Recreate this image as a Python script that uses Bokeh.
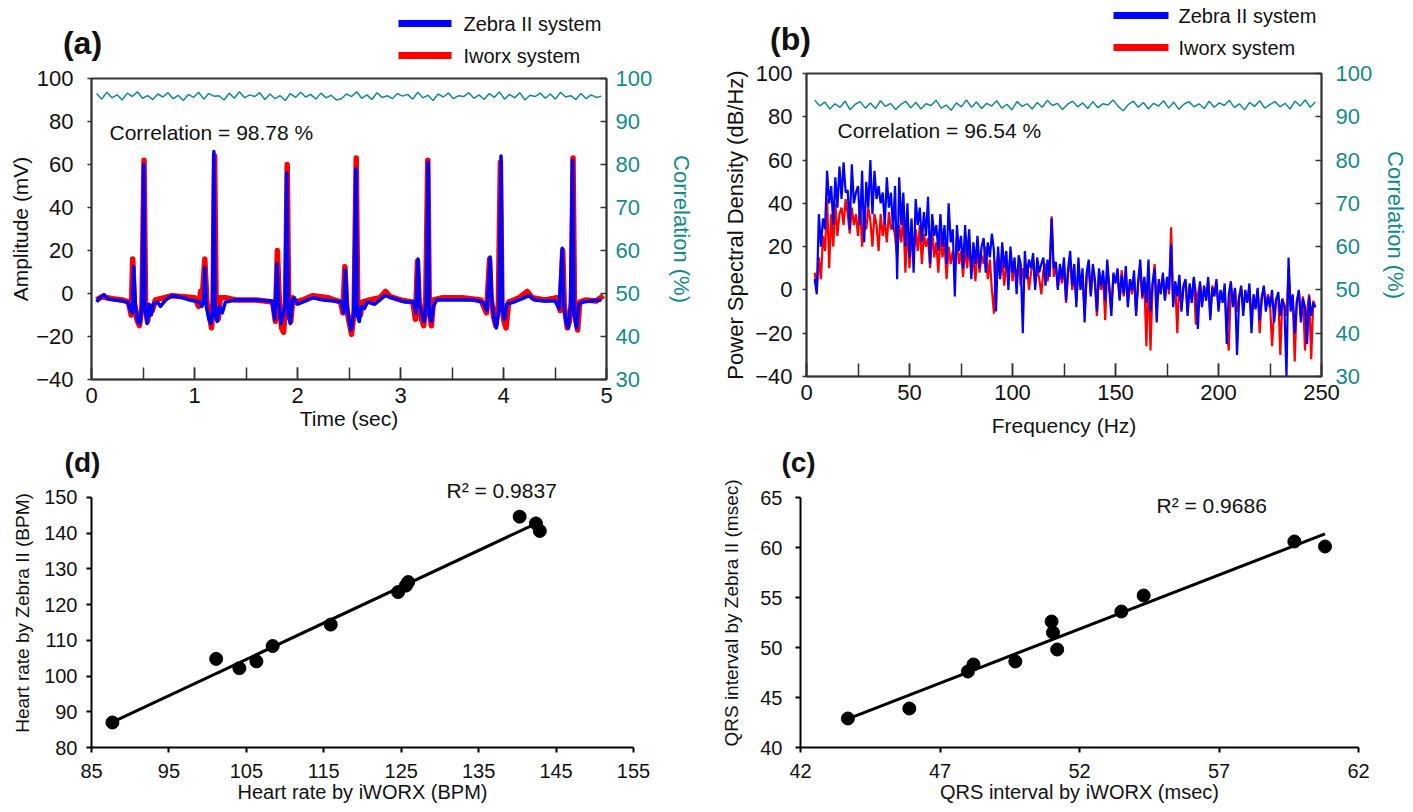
import numpy as np
from bokeh.plotting import figure
from bokeh.models import Range1d, LinearAxis, Label, SingleIntervalTicker, FixedTicker
from bokeh.layouts import column, row
from bokeh.embed import file_html
from bokeh.resources import INLINE

FONT = "Liberation Sans"
TEAL = "#138a8a"
BLUE = "#0000ff"
RED = "#ff0000"

# ---------------- (a) ECG traces ----------------
zebra_t = [0.05, 0.08, 0.12, 0.16, 0.22, 0.30, 0.35, 0.38, 0.395, 0.41, 0.425, 0.45, 0.47, 0.49, 0.507, 0.52, 0.54, 0.56,
           0.58, 0.60, 0.64, 0.67, 0.72, 0.78, 0.85, 0.95, 1.05, 1.07, 1.09, 1.10, 1.115, 1.14, 1.16, 1.175, 1.188, 1.20,
           1.22, 1.24, 1.27, 1.30, 1.40, 1.60, 1.75, 1.78, 1.80, 1.815, 1.84, 1.86, 1.88, 1.895, 1.91, 1.93, 1.95, 1.97,
           2.00, 2.05, 2.15, 2.25, 2.35, 2.43, 2.45, 2.465, 2.48, 2.50, 2.52, 2.545, 2.567, 2.58, 2.60, 2.62, 2.65, 2.68,
           2.75, 2.85, 2.95, 3.05, 3.13, 3.15, 3.17, 3.185, 3.21, 3.23, 3.25, 3.269, 3.28, 3.30, 3.32, 3.35, 3.50, 3.70,
           3.80, 3.84, 3.87, 3.885, 3.91, 3.93, 3.955, 3.976, 3.99, 4.01, 4.03, 4.10, 4.20, 4.25, 4.30, 4.40, 4.50, 4.54,
           4.57, 4.585, 4.61, 4.63, 4.65, 4.67, 4.685, 4.71, 4.73, 4.77, 4.85, 4.95]
zebra_mv = [-4, -2, -0.5, -2.5, -3, -3.5, -4, -8, -9, 12.5, -5, -13, -14, -5, 60, -8, -14, -5,
            -10, -5, -4, -6, -3, -1, -1.5, -3, -4, -6, -4, 12, -6, -12, -14, -8, 66, -10,
            -13, -6, -9, -4, -3, -3, -3.5, -12, 14, -3, -14, -10, -5, 56, -10, -14, -3, -2,
            -5, -4, -2, -3, -3.5, -4, -9, 11, -5, -12, -17, -10, 58, -10, -13, -6, -7, -4,
            -5, -1, -2.5, -4, -4, -9, 16, -5, -10, -13, -4, 61, -10, -13, -6, -3, -3, -3,
            -4, -8, 17, -3, -12, -16, -8, 64, -8, -12, -5, -4, -2, -1, -3, -3.5, -3.5, -7,
            21, -5, -14, -16, -6, 62, -10, -16, -5, -4, -3.5, -3]

iworx_t = [0.05, 0.10, 0.15, 0.22, 0.30, 0.36, 0.385, 0.40, 0.415, 0.44, 0.465, 0.49, 0.51, 0.525, 0.545, 0.565, 0.59,
           0.62, 0.70, 0.78, 0.90, 1.00, 1.04, 1.06, 1.075, 1.10, 1.12, 1.145, 1.165, 1.18, 1.195, 1.21, 1.23, 1.25,
           1.30, 1.40, 1.60, 1.76, 1.785, 1.805, 1.82, 1.845, 1.865, 1.885, 1.90, 1.915, 1.935, 1.955, 1.98, 2.05,
           2.15, 2.30, 2.42, 2.44, 2.46, 2.48, 2.505, 2.525, 2.55, 2.57, 2.585, 2.61, 2.63, 2.70, 2.80, 2.855, 2.90,
           3.00, 3.12, 3.145, 3.165, 3.18, 3.205, 3.225, 3.245, 3.265, 3.28, 3.30, 3.32, 3.40, 3.60, 3.78, 3.835,
           3.865, 3.88, 3.905, 3.925, 3.95, 3.97, 3.985, 4.005, 4.025, 4.05, 4.15, 4.23, 4.28, 4.40, 4.52, 4.55,
           4.575, 4.59, 4.62, 4.64, 4.66, 4.675, 4.69, 4.72, 4.74, 4.80, 4.90, 4.97]
iworx_mv = [-3, -1.5, -2, -2.5, -3, -4, -10, 16, -4, -12, -15, -6, 62, -6, -13, -6, -8,
            -3, -2, -1, -1.5, -2, -6, 1, -2, 16, -4, -10, -16, -6, 64, -6, -12, -2,
            -2, -3, -3, -4, -13, 20, 0, -16, -18, -4, 60, -8, -13, -2, -4, -3,
            -1, -2, -4, -9, 12.5, -8, -14, -19, -8, 63, -6, -10, -4, -3, -2, 1, -1.5,
            -3, -4, -12, 15, -3, -12, -15, -4, 62, -8, -15, -3, -2, -2, -3, -9,
            16, -2, -11, -15, -5, 61, -6, -13, -16, -4, -2, 1, -2, -3, -2, -8,
            20, -6, -16, -13, -4, 63, -8, -17, -4, -3, -3.5, -1]

corr_a = [96.5, 95.2, 96.8, 95.5, 96.2, 95.0, 96.6, 95.8, 96.9, 95.4, 96.0, 95.1, 96.4, 95.7, 96.7, 95.3, 96.1, 94.9,
          96.3, 95.6, 96.8, 95.2, 96.5, 95.9, 96.0, 95.0, 96.6, 95.4, 96.9, 95.5, 96.2, 95.8, 96.7, 95.1, 96.4, 95.3,
          96.0, 94.9, 96.5, 95.6, 96.8, 95.7, 96.3, 95.2, 96.6, 95.5, 96.1, 95.0, 95.3, 96.4, 95.8, 96.9, 95.4, 96.2,
          95.1, 96.7, 95.6, 96.0, 95.3, 96.5, 95.9, 96.3, 95.2, 96.8, 95.5, 96.1, 94.9, 96.4, 95.7, 96.6, 95.3, 96.0,
          95.8, 96.7, 95.4, 96.2, 95.1, 96.5, 95.6, 96.9, 95.2, 96.3, 95.5, 96.7, 95.0, 96.1, 95.8, 96.6, 95.4, 96.4,
          95.2, 96.8, 95.7, 96.0, 95.1, 96.5, 95.3, 96.2, 95.6, 95.9]

# ---------------- (b) power spectral density ----------------
psd_freq = list(range(4, 248))
psd_zebra = [5, -2, 35, 20, 33, 28, 55, 40, 48, 30,
             52, 38, 57, 42, 59, 45, 46, 28, 58, 40,
             45, 48, 30, 55, 22, 50, 38, 60, 35, 55,
             42, 48, 40, 45, 30, 52, 38, 45, 28, 48,
             5, 52, 30, 45, 20, 40, 15, 33, 8, 42,
             30, 38, 22, 36, 25, 43, 12, 35, 25, 30,
             18, 35, 20, 30, 12, 40, 22, 28, -3, 30,
             18, 25, 10, 30, 15, 28, 5, 22, 12, 25,
             10, 20, 24, 8, 22, 15, 26, 18, -10, 20,
             5, 22, 10, 18, 0, 20, 8, 15, -2, 16,
             12, -20, 18, 5, 14, 10, 17, 0, 15, 8,
             12, 15, 2, 14, 6, 33, 10, 13, 0, 12,
             5, 15, -5, 10, 18, 2, 12, -8, 15, 0,
             10, -15, 8, 14, -3, 12, 5, -10, 10, 2,
             9, -5, 14, 0, -12, 8, 3, 10, -5, 7,
             -2, 11, -8, 5, 0, 9, -12, 4, 14, -3,
             6, -6, 14, -10, 3, 10, -15, 5, -2, 8,
             -5, 6, 0, 21, -8, 4, -3, 7, -10, 2,
             5, -12, 3, -6, 6, -2, -18, 4, -8, 2,
             -5, 6, -14, 1, -3, 5, -10, 0, -6, 3,
             -25, -2, 4, -8, 1, -30, -4, 2, -12, 0,
             -6, 3, -20, -2, -9, 1, -14, -4, 2, -10,
             -3, -8, 0, -15, -5, -1, -12, -4, -8, -40,
             15, -10, -2, -20, -6, 0, -15, -4, -8, -25,
             -3, -12, -6, -8]
psd_iworx = [8, 0, 15, 5, 25, 18, 42, 10, 35, 20,
             40, 25, 35, 38, 30, 42, 35, 26, 38, 30,
             35, 25, 40, 20, 35, 28, 38, 32, 20, 35,
             30, 18, 35, 25, 32, 22, 36, 28, 30, 25,
             15, 30, 22, 35, 8, 30, 10, 25, 15, 28,
             18, 30, 12, 26, 20, 24, 10, 28, 15, 22,
             8, 25, 15, 22, 5, 20, 12, 18, 10, 24,
             12, 18, 6, 20, 10, 22, 8, 15, 4, 20,
             8, 16, 12, 20, 5, 14, 0, -11, 12, 16,
             6, 14, 2, 12, 8, 16, 4, 10, 8, 12,
             2, 10, 6, 12, 0, 8, 14, 3, 10, 5,
             -2, 9, 12, 4, 10, 34, 6, 12, 1, 9,
             3, 11, -6, 8, 13, 0, 6, -5, 10, 2,
             7, -10, 6, 10, -2, 9, 3, -12, 8, 0,
             6, -14, 10, 2, -8, 7, 4, 6, -4, 9,
             -3, 8, -6, 4, -2, 6, -10, 3, 10, -4,
             4, -26, 8, -28, 2, 12, -5, 3, 0, 6,
             -4, 5, -2, 29, -6, 3, -20, 5, -8, 1,
             4, -10, 2, -4, 5, -16, -2, 3, -6, 0,
             -4, 4, -12, 2, -2, 3, -8, -1, -4, 1,
             -18, -28, 2, -6, 0, -10, -3, 1, -8, -2,
             -5, 1, -12, -4, -7, 0, -20, -3, 1, -8,
             -2, -6, -26, -10, -4, -2, -30, -5, -7, -12,
             10, -8, -3, -33, -5, -1, -12, -3, -28, -10,
             -2, -32, -5, -8]
corr_b = [93.8, 92.5, 93.4, 91.8, 93.0, 92.2, 93.6, 91.6, 92.9, 93.5, 92.0, 93.2, 91.9, 93.7, 92.4, 93.1, 91.7, 92.8,
          93.6, 92.1, 93.3, 91.8, 93.0, 92.6, 93.8, 92.0, 92.7, 91.5, 93.2, 92.3, 93.9, 92.2, 93.4, 91.9, 93.1, 92.5,
          93.7, 92.0, 92.9, 91.6, 93.5, 92.4, 93.0, 91.8, 93.3, 92.2, 93.8, 92.6, 93.1, 91.7, 92.9, 93.6, 92.3, 93.2,
          91.9, 93.5, 92.1, 93.0, 92.7, 93.9, 92.4, 91.4, 92.8, 93.6, 92.2, 93.3, 91.8, 93.1, 92.5, 93.7, 92.0, 93.4,
          91.7, 92.9, 93.5, 92.3, 93.0, 91.9, 93.6, 92.2, 93.2, 92.6, 93.8, 92.1, 93.0, 91.6, 93.3, 92.4, 93.7, 92.0,
          92.8, 93.5, 92.3, 93.1, 91.8, 93.6, 92.5, 93.9, 92.2, 93.4]

# ---------------- (d) heart rate ----------------
hr_iworx = [87.7, 101.1, 104.1, 106.3, 108.4, 115.9, 124.6, 125.6, 125.9, 140.3, 142.4, 142.9]
hr_zebra = [87.0, 104.8, 102.2, 104.1, 108.4, 114.4, 123.5, 125.3, 126.3, 144.6, 142.7, 140.6]
hr_r2 = "R\u00b2 = 0.9837"

# ---------------- (c) QRS interval ----------------
qrs_iworx = [43.7, 45.9, 48.0, 48.2, 49.7, 51.0, 51.05, 51.2, 53.5, 54.3, 59.7, 60.8]
qrs_zebra = [42.9, 43.9, 47.6, 48.3, 48.6, 52.6, 51.5, 49.8, 53.6, 55.2, 60.6, 60.1]
qrs_r2 = "R\u00b2 = 0.9686"

legend_labels = ["Zebra II system", "Iworx system"]
legend_colors = [BLUE, RED]

FRAMES = {}


def make_fig(ox, oy, w, h, L, R, T, B, xr, yr, frame_top=None):
    """Plot box L..R / T..B in page pixels; the frame may reach higher (frame_top) for inner labels."""
    ft = T if frame_top is None else frame_top
    y1 = yr[1] + (T - ft) / (B - T) * (yr[1] - yr[0])
    p = figure(width=w, height=h, x_range=Range1d(*xr), y_range=Range1d(yr[0], y1),
               output_backend="svg", toolbar_location=None,
               min_border_left=L - ox, min_border_right=ox + w - R,
               min_border_top=ft - oy, min_border_bottom=oy + h - B)
    p.xgrid.visible = False
    p.ygrid.visible = False
    p.background_fill_color = "white"
    p.border_fill_color = "white"
    FRAMES[p.id] = (L, R, ft, B, xr[0], xr[1], yr[0], y1)
    return p


def make_header(ox, oy, w, h):
    p = figure(width=w, height=h, x_range=Range1d(ox, ox + w), y_range=Range1d(-(oy + h), -oy),
               output_backend="svg", toolbar_location=None, x_axis_location=None, y_axis_location=None,
               min_border=0, min_border_left=0, min_border_right=0, min_border_top=0, min_border_bottom=0)
    p.xgrid.visible = False
    p.ygrid.visible = False
    p.outline_line_color = None
    p.background_fill_color = "white"
    p.border_fill_color = "white"
    FRAMES[p.id] = (ox, ox + w, oy, oy + h, ox, ox + w, -(oy + h), -oy)
    return p


def to_data(p, px, py):
    L, R, T, B, x0, x1, y0, y1 = FRAMES[p.id]
    return x0 + (px - L) / (R - L) * (x1 - x0), y1 - (py - T) / (B - T) * (y1 - y0)


def style_axis(ax, tick_size, label_size, color="#222222", lw=1.5, tin=0, tout=0, mstand=8, lstand=4,
               label_color="#111111"):
    ax.axis_line_color = color
    ax.axis_line_width = lw
    ax.major_tick_line_color = color
    ax.major_tick_line_width = lw
    ax.minor_tick_line_color = color
    ax.minor_tick_line_width = lw
    ax.major_tick_in = tin
    ax.major_tick_out = tout
    ax.minor_tick_in = tin
    ax.minor_tick_out = tout
    ax.major_label_text_font = FONT
    ax.major_label_text_font_size = tick_size
    ax.major_label_text_color = label_color
    ax.axis_label_text_font = FONT
    ax.axis_label_text_font_size = label_size
    ax.axis_label_text_font_style = "normal"
    ax.axis_label_text_color = label_color
    ax.major_label_standoff = mstand
    ax.axis_label_standoff = lstand


def add_text(p, px, py, text, size, align="left", bold=False, color="#111111"):
    x, y = to_data(p, px, py)
    p.add_layout(Label(x=x, y=y, text=text, text_font=FONT, text_font_size=size,
                       text_font_style="bold" if bold else "normal", text_color=color,
                       text_align=align, text_baseline="middle"))


def add_legend(p, x0, x1, xt, ys):
    for yy, col, lab in zip(ys, legend_colors, legend_labels):
        xa, ya = to_data(p, x0, yy)
        xb, _ = to_data(p, x1, yy)
        p.segment(x0=[xa], y0=[ya], x1=[xb], y1=[ya], line_color=col, line_width=7)
        add_text(p, xt, yy, lab, "20px")


def ecg_panel(p, corr_x, corr_y, right_stand, right_lstand):
    p.extra_y_ranges = {"corr": Range1d(30, 100)}
    p.outline_line_color = "#333333"
    p.outline_line_width = 2
    p.line(corr_x, corr_y, y_range_name="corr", line_color=TEAL, line_width=1.5)
    rax = LinearAxis(y_range_name="corr", ticker=FixedTicker(ticks=[30, 40, 50, 60, 70, 80, 90, 100], minor_ticks=[]),
                     axis_label="Correlation (%)")
    style_axis(rax, "22px", "22px", color="#333333", tin=6, tout=0, mstand=right_stand, lstand=right_lstand,
               label_color=TEAL)
    p.add_layout(rax, "right")
    return p


# ================= headers (panel tags and legends) =================
TOP_A, TOP_B, TOP_ROW, MID = 67, 60, 446, 478
ha = make_header(0, 0, 700, TOP_A)
add_text(ha, 82, 42, "(a)", "32px", align="center", bold=True)
add_legend(ha, 398, 451, 463, [23, 55])

hb = make_header(700, 0, 713, TOP_B)
add_text(hb, 790, 38, "(b)", "32px", align="center", bold=True)
add_legend(hb, 1113, 1168, 1178, [15, 47])

hd = make_header(0, TOP_ROW, 700, MID - TOP_ROW)
add_text(hd, 82, 462, "(d)", "28px", align="center", bold=True)
hc = make_header(700, TOP_ROW, 713, MID - TOP_ROW)
add_text(hc, 798, 462, "(c)", "28px", align="center", bold=True)

# ================= panel (a) =================
pa = make_fig(0, TOP_A, 700, TOP_ROW - TOP_A, 91, 606, 78, 379, (0, 5), (-40, 100))
pa.line(iworx_t, iworx_mv, line_color=RED, line_width=5.5, line_join="round")
pa.line(zebra_t, zebra_mv, line_color=BLUE, line_width=3.5, line_join="round")
ecg_panel(pa, list(np.linspace(0.05, 4.95, len(corr_a))), corr_a, 9, 14)
pa.xaxis[0].ticker = SingleIntervalTicker(interval=1, num_minor_ticks=2)
pa.xaxis[0].axis_label = "Time (sec)"
style_axis(pa.xaxis[0], "22px", "21px", color="#333333", tin=12, tout=0, mstand=8, lstand=1)
pa.yaxis[0].ticker = FixedTicker(ticks=[-40, -20, 0, 20, 40, 60, 80, 100], minor_ticks=[])
pa.yaxis[0].axis_label = "Amplitude (mV)"
style_axis(pa.yaxis[0], "22px", "21px", color="#333333", tin=0, tout=4, mstand=14, lstand=1)
add_text(pa, 109, 132, "Correlation = 98.78 %", "21px")

# ================= panel (b) =================
pb = make_fig(700, TOP_B, 713, TOP_ROW - TOP_B, 806, 1321, 73, 376, (0, 250), (-40, 100))
pb.line(psd_freq, psd_iworx, line_color=RED, line_width=2.2)
pb.line(psd_freq, psd_zebra, line_color=BLUE, line_width=2.2)
ecg_panel(pb, list(np.linspace(4, 247, len(corr_b))), corr_b, 14, 8)
pb.xaxis[0].ticker = SingleIntervalTicker(interval=50, num_minor_ticks=2)
pb.xaxis[0].axis_label = "Frequency (Hz)"
style_axis(pb.xaxis[0], "22px", "21px", color="#333333", tin=13, tout=0, mstand=8, lstand=11)
pb.yaxis[0].ticker = FixedTicker(ticks=[-40, -20, 0, 20, 40, 60, 80, 100], minor_ticks=[])
pb.yaxis[0].axis_label = "Power Spectral Density (dB/Hz)"
style_axis(pb.yaxis[0], "22px", "22px", color="#333333", tin=0, tout=4, mstand=10, lstand=4)
add_text(pb, 837, 130, "Correlation = 96.54 %", "21px")


def scatter_panel(p, xs, ys, yb, r2, r2_px, r2_py, xlab, ylab, xticks, yticks, ystands):
    p.outline_line_color = None
    xs_a = np.array(xs)
    ys_a = np.array(ys)
    k, b = np.polyfit(xs_a, ys_a, 1)
    lx = np.array([xs_a.min(), xs_a.max()])
    p.line(lx, k * lx + b, line_color="black", line_width=3)
    p.scatter(xs, ys, size=13, color="black")
    p.xaxis[0].ticker = FixedTicker(ticks=xticks, minor_ticks=[])
    p.yaxis[0].ticker = FixedTicker(ticks=yticks, minor_ticks=[])
    p.yaxis[0].bounds = yb
    p.xaxis[0].axis_label = xlab
    p.yaxis[0].axis_label = ylab
    style_axis(p.xaxis[0], "20px", "20px", color="black", lw=2, tin=0, tout=5, mstand=11, lstand=0)
    style_axis(p.yaxis[0], "20px", "19px", color="black", lw=2, tin=0, tout=5, mstand=ystands[0], lstand=ystands[1])
    add_text(p, r2_px, r2_py, r2, "21px")


# ================= panel (d) =================
pd_ = make_fig(0, MID, 700, 812 - MID, 91, 633, 497, 749, (85, 155), (80, 150), frame_top=MID)
scatter_panel(pd_, hr_iworx, hr_zebra, (80, 150), hr_r2, 446, 490,
              "Heart rate by iWORX (BPM)", "Heart rate by Zebra II (BPM)",
              [85, 95, 105, 115, 125, 135, 145, 155], [80, 90, 100, 110, 120, 130, 140, 150], (9, 8))

# ================= panel (c) =================
pc = make_fig(700, MID, 713, 812 - MID, 800, 1358, 497, 747, (42, 62), (40, 65), frame_top=MID)
scatter_panel(pc, qrs_iworx, qrs_zebra, (40, 65), qrs_r2, 1156, 505,
              "QRS interval by iWORX (msec)", "QRS interval by Zebra II (msec)",
              [42, 47, 52, 57, 62], [40, 45, 50, 55, 60, 65], (13, 15))

# headers are wrapped in their own rows so that their frames are not aligned with the panels below
layout = column(row(column(row(ha), pa), column(row(hb), pb)), row(hd, hc), row(pd_, pc))
open("out.html", "w").write(file_html(layout, INLINE))
